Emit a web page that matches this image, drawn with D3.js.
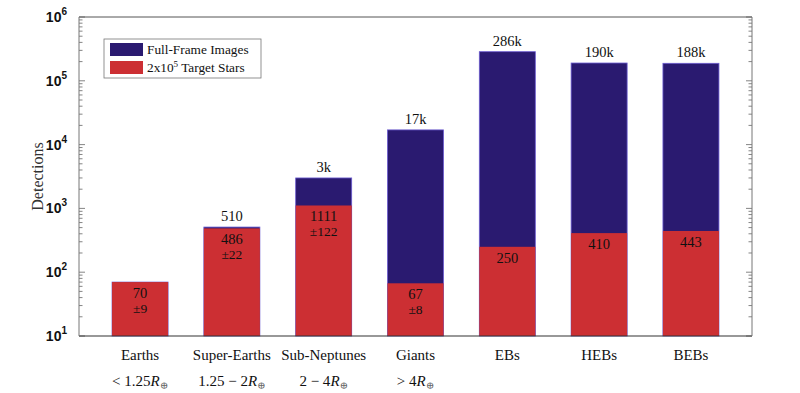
<!DOCTYPE html>
<html lang="en">
<head>
    <meta charset="UTF-8">
    <title>Detections</title>
    <script src="https://cdn.jsdelivr.net/npm/d3@7"></script>
    <style>
        body { margin: 0; background: white; }
        text { font-family: "Liberation Serif", "DejaVu Serif", serif; fill: #111; }
        .ytick text { font-family: "Liberation Sans", Arial, sans-serif; font-weight: bold; }
    </style>
</head>
<body>
<script>
    const width = 800, height = 393;

    const categories = ["Earths", "Super-Earths", "Sub-Neptunes", "Giants", "EBs", "HEBs", "BEBs"];
    const ranges     = ["< 1.25", "1.25 \u2212 2", "2 \u2212 4", "> 4", null, null, null];
    const ffiTotals  = [70, 510, 3000, 17000, 286000, 190000, 188000];
    const ffiLabels  = [null, "510", "3k", "17k", "286k", "190k", "188k"];
    const targets    = [70, 486, 1111, 67, 250, 410, 443];
    const targetErr  = ["\u00b19", "\u00b122", "\u00b1122", "\u00b18", null, null, null];
    const legendItems = ["Full-Frame Images", "2x10^5 Target Stars"];

    const blue = "#2a1a70", red = "#cc2f33";

    const mLeft = 79, mRight = 752, mTop = 17, mBottom = 336;

    const svg = d3.select("body").append("svg")
        .attr("width", width).attr("height", height);

    const x = d3.scaleBand()
        .domain(categories)
        .range([mLeft, mRight])
        .paddingInner(0.39)
        .paddingOuter(0.36);

    const y = d3.scaleLog().domain([10, 1e6]).range([mBottom, mTop]);

    const data = categories.map((c, i) => ({
        cat: c, total: ffiTotals[i], target: targets[i],
        tlabel: ffiLabels[i], err: targetErr[i], range: ranges[i]
    }));

    // blue (full frame) bars behind red
    svg.selectAll("rect.ffi").data(data).join("rect").attr("class", "ffi")
        .attr("x", d => x(d.cat))
        .attr("width", x.bandwidth())
        .attr("y", d => y(d.total))
        .attr("height", d => y(10) - y(d.total))
        .attr("fill", blue)
        .attr("stroke", "#6b5bd0")
        .attr("stroke-width", 0.8);

    svg.selectAll("rect.tgt").data(data).join("rect").attr("class", "tgt")
        .attr("x", d => x(d.cat))
        .attr("width", x.bandwidth())
        .attr("y", d => y(d.target))
        .attr("height", d => y(10) - y(d.target))
        .attr("fill", red);

    // axes box with inward ticks
    const ticks = [];
    for (let e = 1; e < 6; e++) for (let m = 1; m < 10; m++) ticks.push(m * Math.pow(10, e));
    ticks.push(1e6);

    const gL = svg.append("g").attr("transform", `translate(${mLeft},0)`);
    const gR = svg.append("g").attr("transform", `translate(${mRight},0)`);
    [[gL, 1], [gR, -1]].forEach(([g, dir]) => {
        g.selectAll("line").data(ticks).join("line")
            .attr("x1", 0)
            .attr("x2", d => dir * (Math.abs(Math.log10(d) % 1) < 1e-9 ? 6 : 3.5))
            .attr("y1", d => y(d)).attr("y2", d => y(d))
            .attr("stroke", "#666").attr("stroke-width", 0.8);
    });

    svg.append("line").attr("x1", mLeft).attr("x2", mRight).attr("y1", mTop).attr("y2", mTop)
        .attr("stroke", "#555").attr("stroke-width", 1);
    svg.append("line").attr("x1", mLeft).attr("x2", mRight).attr("y1", mBottom).attr("y2", mBottom)
        .attr("stroke", "#333").attr("stroke-width", 1.2);
    svg.append("line").attr("x1", mLeft).attr("x2", mLeft).attr("y1", mTop).attr("y2", mBottom)
        .attr("stroke", "#777").attr("stroke-width", 1);
    svg.append("line").attr("x1", mRight).attr("x2", mRight).attr("y1", mTop).attr("y2", mBottom)
        .attr("stroke", "#777").attr("stroke-width", 1);

    // y tick labels 10^n
    const majors = [1, 2, 3, 4, 5, 6];
    const yt = svg.append("g").attr("class", "ytick");
    majors.forEach(e => {
        const t = yt.append("text")
            .attr("x", 67).attr("y", y(Math.pow(10, e)) + 5)
            .attr("text-anchor", "end")
            .attr("font-size", 14);
        t.append("tspan").text("10");
        t.append("tspan").attr("dy", -7).attr("font-size", 10).text(e);
    });

    svg.append("text")
        .attr("transform", `translate(43,${(mTop + mBottom) / 2}) rotate(-90)`)
        .attr("text-anchor", "middle")
        .attr("font-size", 16)
        .style("fill", "#333")
        .text("Detections");

    // value labels
    svg.selectAll("text.tot").data(data.filter(d => d.tlabel)).join("text").attr("class", "tot")
        .attr("x", d => x(d.cat) + x.bandwidth() / 2)
        .attr("y", d => y(d.total) - 6)
        .attr("text-anchor", "middle").attr("font-size", 14.5)
        .text(d => d.tlabel);

    svg.selectAll("text.tv").data(data).join("text").attr("class", "tv")
        .attr("x", d => x(d.cat) + x.bandwidth() / 2)
        .attr("y", d => y(d.target) + 16)
        .attr("text-anchor", "middle").attr("font-size", 14.5)
        .text(d => d.target);

    svg.selectAll("text.te").data(data.filter(d => d.err)).join("text").attr("class", "te")
        .attr("x", d => x(d.cat) + x.bandwidth() / 2)
        .attr("y", d => y(d.target) + 31)
        .attr("text-anchor", "middle").attr("font-size", 13.5)
        .text(d => d.err);

    // category labels
    svg.selectAll("text.cat").data(data).join("text").attr("class", "cat")
        .attr("x", d => x(d.cat) + x.bandwidth() / 2)
        .attr("y", 360)
        .attr("text-anchor", "middle").attr("font-size", 15)
        .text(d => d.cat);

    data.filter(d => d.range).forEach(d => {
        const t = svg.append("text")
            .attr("x", x(d.cat) + x.bandwidth() / 2)
            .attr("y", 386)
            .attr("text-anchor", "middle").attr("font-size", 15);
        t.append("tspan").text(d.range);
        t.append("tspan").style("font-style", "italic").text("R");
        t.append("tspan").attr("dy", 3).attr("font-size", 10).style("fill", "#666").text("\u2295");
    });

    // legend
    const lg = svg.append("g");
    lg.append("rect").attr("x", 104).attr("y", 39).attr("width", 157).attr("height", 39)
        .attr("fill", "white").attr("stroke", "#777").attr("stroke-width", 0.8);
    [blue, red].forEach((c, i) => {
        lg.append("rect").attr("x", 110).attr("y", 43 + i * 18).attr("width", 33).attr("height", 13)
            .attr("fill", c);
        const t = lg.append("text").attr("x", 147).attr("y", 54 + i * 18).attr("font-size", 13.3);
        const parts = legendItems[i].split("^");
        if (parts.length === 1) t.text(parts[0]);
        else {
            t.append("tspan").text(parts[0]);
            t.append("tspan").attr("dy", -5).attr("font-size", 9).text(parts[1].split(" ")[0]);
            t.append("tspan").attr("dy", 5).text(" " + parts[1].split(" ").slice(1).join(" "));
        }
    });
</script>
</body>
</html>
